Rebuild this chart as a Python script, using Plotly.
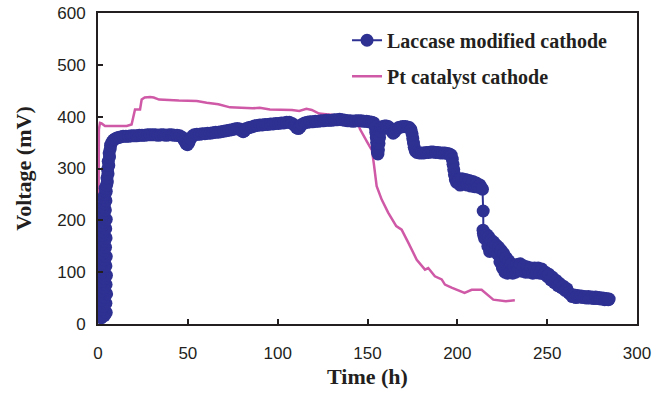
import plotly.graph_objects as go

# Cell voltage over time for two cathode types (time in h, voltage in mV)
laccase_time = [
    # start-up
    1.8, 3.5, 4.6, 2.2, 3.0, 4.4, 1.9, 3.6, 4.8, 2.4, 3.2, 4.5, 2.0, 3.8, 4.7, 2.3, 3.1, 4.4,
    1.9, 3.6, 4.6, 2.5, 3.3, 4.2, 2.1, 3.7, 4.5, 2.4, 3.0, 4.3, 2.2, 3.5, 4.6, 2.6, 3.4, 4.1,
    2.8, 3.6, 4.4, 3.0, 3.9, 4.6, 4.0, 4.8, 5.2, 5.0, 5.6, 5.3, 6.0, 5.7, 6.4, 6.2, 6.8, 7.0,
    7.8, 8.6, 9.5, 10.5, 11.5, 12.5, 14, 15.5, 17, 18.5, 20, 21.5, 23, 24.5, 26, 27.5, 29,
    # plateau
    30.5, 32, 33.5, 35, 36.5, 38, 39.5, 41, 42.5, 44, 45.5, 47, 48, 49, 49.8, 50.6, 51.5,
    52.5, 53.5, 55, 56.5, 58, 59.5, 61, 62.5, 64, 65.5, 67, 68.5, 70, 71.5, 73, 74.5, 76,
    77.5, 79, 80, 80.8, 81.6, 82.5, 84, 85.5, 87, 88.5, 90, 91.5, 93, 94.5, 96, 97.5, 99,
    100.5, 102, 103.5, 105, 106.5, 108, 109.5, 110.5, 111.5, 112.5, 113.5, 115, 116.5, 118,
    119.5, 121, 122.5, 124, 125.5, 127, 128.5, 130, 131.5, 133, 134.5, 136, 137.5, 139,
    140.5, 142, 143.5, 145, 146.5, 148, 149.5, 151, 152.5, 153.5,
    # stepwise decline
    154.2, 154.6, 154.9, 155.1, 155.3, 155.5, 155.8, 156.1, 156.4, 156.7, 157.1, 157.6,
    158.5, 159.5, 160.5, 161.5, 162.5, 163.5, 164.3, 165.2, 166.2, 167.3, 168.5, 169.7,
    171, 172.2, 173.3, 174.2, 174.8, 175.2, 175.6, 176, 176.6, 177.5, 178.8, 180.1, 181.4,
    182.7, 184, 185.3, 186.6, 187.9, 189.2, 190.5, 191.8, 193.1, 194.4, 195.6, 196.6,
    197.2, 197.6, 198, 198.4, 198.9, 199.6, 200.6, 201.6, 202.6, 203.6, 204.6, 205.6,
    206.6, 207.6, 208.6, 209.6, 210.6, 211.6, 212.6, 213.5, 214, 214.4,
    # tail
    214.3, 214.5, 214.8, 215.2, 216.5, 217, 217.5, 218, 218.8, 219.5, 220.2, 221, 221.7,
    222.4, 223, 223.7, 224.4, 225.1, 225.8, 226.5, 227.2, 227.9, 228.6, 229.3, 230, 230.8,
    231.6, 232.4, 233.2, 234, 235, 236, 237, 238, 239, 240, 241, 242, 243, 244, 245, 246,
    247, 248, 249, 250, 251, 252, 253, 254, 255, 256, 257, 258, 259, 260, 261, 262, 263,
    264, 265, 266, 267, 268, 269, 270, 271, 272, 273, 274, 275, 276, 277, 278, 279, 280,
    281, 282, 283, 284, 284.5,
]
laccase_voltage = [
    12, 16, 22, 28, 34, 40, 46, 52, 58, 64, 70, 76, 82, 88, 94, 100, 106, 112,
    118, 124, 130, 136, 142, 148, 154, 160, 166, 172, 178, 184, 190, 196, 202, 208, 214, 220,
    226, 232, 238, 244, 250, 256, 262, 268, 274, 282, 290, 298, 306, 314, 322, 330, 338, 345,
    351, 355, 357, 359, 360, 361, 362, 362, 362, 363, 363, 363, 364, 364, 364, 365, 365,
    365, 365, 364, 365, 365, 364, 365, 365, 364, 364, 363, 360, 354, 348, 346, 350, 357,
    362, 365, 366, 366, 367, 367, 368, 368, 369, 370, 370, 371, 372, 373, 374, 375, 376,
    377, 376, 373, 371, 373, 377, 379, 380, 382, 383, 384, 384, 385, 385, 386, 386, 387,
    387, 388, 388, 389, 389, 387, 383, 379, 377, 380, 385, 388, 389, 390,
    390, 391, 391, 392, 392, 393, 393, 393, 394, 394, 395, 394, 393, 392,
    392, 391, 392, 392, 392, 391, 391, 390, 389, 388,
    380, 370, 360, 350, 340, 332, 328, 336, 348, 360, 372, 379,
    381, 382, 382, 381, 378, 372, 368, 371, 376, 379, 380, 381,
    381, 380, 379, 375, 367, 358, 349, 341, 334, 331, 330, 330, 330,
    331, 331, 332, 332, 331, 331, 330, 330, 330, 329, 328, 326,
    318, 308, 298, 288, 279, 273, 278, 268, 280, 270, 279, 268,
    277, 266, 275, 265, 272, 264, 268, 262, 260, 218,
    181, 175, 170, 165, 172, 150, 168, 140, 162, 145, 158, 140, 152,
    135, 148, 120, 142, 108, 136, 100, 128, 98, 122, 100, 116, 98,
    112, 100, 115, 104, 116, 102, 112, 100, 110, 100, 108, 98, 108, 99, 108, 98,
    106, 97, 100, 92, 96, 85, 90, 80, 84, 74, 78, 70, 73, 65, 68, 60, 57,
    53, 56, 51, 55, 52, 54, 51, 53, 50, 53, 50, 52, 49, 52, 49, 51, 48,
    50, 47, 49, 47, 48,
]

pt_time = [
    0, 0.2, 0.5, 1.1, 2.0, 3.9, 10, 16, 18.7, 20.6, 23.4, 24.3, 26, 29, 31, 34, 45, 55,
    60.5, 67, 73.5, 86, 90, 95.7, 108, 112, 116, 119, 123, 129, 135, 140, 144, 145.8, 150,
    152.5, 153.5, 154.3, 155.1, 157.9, 161.5, 166, 169, 172.7, 177.4, 182, 183.8, 187.5,
    191.3, 193.1, 196.8, 204, 208, 213.5, 216.3, 220, 227, 232,
]
pt_voltage = [
    10, 200, 375, 388, 387, 382, 382, 382, 385, 414, 414, 433, 437, 438, 437, 433, 431, 430,
    427, 424, 418, 416, 417, 414, 413, 411, 415, 413, 406, 404, 403, 400, 396, 376, 350,
    335, 310, 285, 266, 240, 215, 189, 182, 157, 124, 105, 108, 92,
    86, 76, 70, 60, 66, 66, 57, 47, 44, 46,
]

x_ticks = [0, 50, 100, 150, 200, 250, 300]
y_ticks = [0, 100, 200, 300, 400, 500, 600]

BLUE = "#2E3192"
PINK = "#CF59A6"
INK = "#231F20"
SERIF = "Liberation Serif, Times New Roman, serif"
SANS = "Liberation Sans, Arial, sans-serif"

fig = go.Figure()

fig.add_trace(go.Scatter(
    x=pt_time, y=pt_voltage, mode="lines",
    name="Pt catalyst cathode", legendgroup="pt", legendrank=2,
    line=dict(color=PINK, width=2.5),
))
fig.add_trace(go.Scatter(
    x=laccase_time, y=laccase_voltage, mode="lines+markers",
    name="Laccase modified cathode", legendgroup="laccase", legendrank=1,
    line=dict(color=BLUE, width=2),
    marker=dict(color=BLUE, size=13, line=dict(width=0)),
))

axis_common = dict(
    showline=True, linecolor=INK, linewidth=2, mirror=True,
    ticks="inside", ticklen=5, tickwidth=2, tickcolor=INK,
    showgrid=False, zeroline=False, automargin=False,
    tickfont=dict(family=SANS, size=17, color=INK),
)

fig.update_layout(
    width=662, height=395,
    margin=dict(l=98, r=25, t=13, b=71),
    paper_bgcolor="white", plot_bgcolor="white",
    xaxis=dict(
        range=[0, 300], tickvals=x_ticks, ticklabelstandoff=13,
        title=dict(text="Time (h)", font=dict(family=SERIF, size=22, color=INK, weight="bold"),
                   standoff=6),
        **axis_common,
    ),
    yaxis=dict(
        range=[0, 600], tickvals=y_ticks, ticklabelstandoff=7,
        title=dict(text="Voltage (mV)", font=dict(family=SERIF, size=22, color=INK, weight="bold"),
                   standoff=20),
        **axis_common,
    ),
    legend=dict(
        x=0.462, y=0.975, xanchor="left", yanchor="top",
        bgcolor="rgba(0,0,0,0)",
        font=dict(family=SERIF, size=20, color=INK, weight="bold"),
        traceorder="grouped", tracegroupgap=7,
    ),
    showlegend=True,
)

fig.write_html("out.html")
